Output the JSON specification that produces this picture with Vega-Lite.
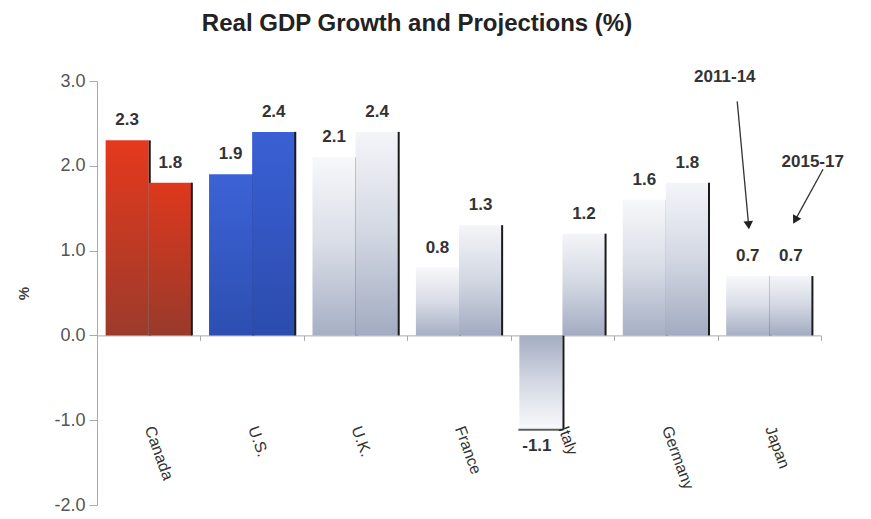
{
  "$schema": "https://vega.github.io/schema/vega-lite/v6.json",
  "width": 724,
  "height": 424,
  "autosize": {"type": "none"},
  "padding": {"left": 97, "top": 81, "right": 50, "bottom": 14},
  "background": "white",
  "title": {
    "text": "Real GDP Growth and Projections (%)",
    "font": "Liberation Sans Narrow, Liberation Sans",
    "fontSize": 24,
    "fontWeight": "bold",
    "color": "#222222",
    "anchor": "middle",
    "dx": -42,
    "offset": 32
  },
  "config": {
    "view": {"stroke": null},
    "locale": {"number": {"decimal": ".", "thousands": ",", "grouping": [3], "currency": ["$", ""], "minus": "-"}}
  },
  "datasets": {
    "gdp": [
      {"country": "Canada", "period": "2011-14", "value": 2.3},
      {"country": "Canada", "period": "2015-17", "value": 1.8},
      {"country": "U.S.", "period": "2011-14", "value": 1.9},
      {"country": "U.S.", "period": "2015-17", "value": 2.4},
      {"country": "U.K.", "period": "2011-14", "value": 2.1},
      {"country": "U.K.", "period": "2015-17", "value": 2.4},
      {"country": "France", "period": "2011-14", "value": 0.8},
      {"country": "France", "period": "2015-17", "value": 1.3},
      {"country": "Italy", "period": "2011-14", "value": -1.1},
      {"country": "Italy", "period": "2015-17", "value": 1.2},
      {"country": "Germany", "period": "2011-14", "value": 1.6},
      {"country": "Germany", "period": "2015-17", "value": 1.8},
      {"country": "Japan", "period": "2011-14", "value": 0.7},
      {"country": "Japan", "period": "2015-17", "value": 0.7}
    ],
    "arrows": [
      {"label": "2011-14", "part": "tail", "x": 6.19, "y": 2.76},
      {"label": "2011-14", "part": "tip", "x": 6.30, "y": 1.30},
      {"label": "2015-17", "part": "tail", "x": 7.02, "y": 1.96},
      {"label": "2015-17", "part": "tip", "x": 6.75, "y": 1.36}
    ],
    "notes": [
      {"label": "2011-14", "x": 6.07, "y": 3.05},
      {"label": "2015-17", "x": 6.92, "y": 2.05}
    ]
  },
  "resolve": {"scale": {"x": "independent"}},
  "layer": [
    {
      "data": {"name": "gdp"},
      "encoding": {
        "x": {
          "field": "country",
          "type": "nominal",
          "sort": ["Canada", "U.S.", "U.K.", "France", "Italy", "Germany", "Japan"],
          "scale": {"paddingInner": 0, "paddingOuter": 0},
          "axis": {
            "title": null,
            "offset": -169.6,
            "labelAngle": 70,
            "labelAlign": "left",
            "labelBaseline": "middle",
            "labelPadding": 86,
            "labelFont": "Liberation Sans",
            "labelFontSize": 16,
            "labelColor": "#333333",
            "tickBand": "extent",
            "tickSize": 5,
            "tickColor": "#aaaaaa",
            "domainColor": "#aaaaaa",
            "labelOverlap": false
          }
        },
        "y": {
          "field": "value",
          "type": "quantitative",
          "scale": {"domain": [-2, 3], "nice": false, "zero": false},
          "axis": {
            "title": "%",
            "titleFont": "Liberation Sans",
            "titleFontSize": 15,
            "titleFontWeight": "bold",
            "titleColor": "#444444",
            "titlePadding": 22,
            "values": [-2, -1, 0, 1, 2, 3],
            "format": ".1f",
            "labelFont": "Liberation Sans",
            "labelFontSize": 18,
            "labelColor": "#555555",
            "labelPadding": 4,
            "tickSize": 8,
            "tickColor": "#aaaaaa",
            "domainColor": "#aaaaaa",
            "grid": false
          }
        }
      },
      "layer": [
        {
          "transform": [{"filter": "datum.period === '2011-14'"}],
          "mark": {"type": "bar"},
          "encoding": {
            "xOffset": {"field": "period", "type": "nominal", "sort": ["2011-14", "2015-17"], "scale": {"domain": ["2011-14", "2015-17"], "paddingInner": 0, "paddingOuter": 0.2}},
            "y2": {"datum": 0},
            "fill": {
              "condition": [
                {"test": "datum.country === 'Canada'", "value": {"gradient": "linear", "x1": 0, "y1": 0, "x2": 0, "y2": 1, "stops": [{"offset": 0, "color": "#e5391d"}, {"offset": 1, "color": "#9c3b2b"}]}},
                {"test": "datum.country === 'U.S.'", "value": {"gradient": "linear", "x1": 0, "y1": 0, "x2": 0, "y2": 1, "stops": [{"offset": 0, "color": "#3c62d6"}, {"offset": 1, "color": "#2d4fb2"}]}},
                {"test": "datum.value < 0", "value": {"gradient": "linear", "x1": 0, "y1": 0, "x2": 0, "y2": 1, "stops": [{"offset": 0, "color": "#a4adc2"}, {"offset": 0.5, "color": "#d3d8e3"}, {"offset": 1, "color": "#f8f9fb"}]}}
              ],
              "value": {"gradient": "linear", "x1": 0, "y1": 0, "x2": 0, "y2": 1, "stops": [{"offset": 0, "color": "#f7f8fb"}, {"offset": 0.5, "color": "#d8dce6"}, {"offset": 1, "color": "#a6afc4"}]}
            }
          }
        },
        {
          "transform": [{"filter": "datum.period === '2011-14'"}],
          "mark": {"type": "rule", "color": "#1a1a1a", "strokeWidth": 2},
          "encoding": {
            "x": {"field": "country", "type": "nominal", "sort": ["Canada", "U.S.", "U.K.", "France", "Italy", "Germany", "Japan"], "bandPosition": 0.51},
            "y2": {"datum": 0}
          }
        },
        {
          "transform": [{"filter": "datum.value < 0"}],
          "mark": {"type": "tick", "orient": "horizontal", "color": "#1a1a1a", "thickness": 2, "size": 45, "yOffset": 1},
          "encoding": {
            "xOffset": {"field": "period", "type": "nominal", "sort": ["2011-14", "2015-17"], "scale": {"domain": ["2011-14", "2015-17"], "paddingInner": 0, "paddingOuter": 0.2}}
          }
        },
        {
          "transform": [{"filter": "datum.period === '2015-17'"}],
          "mark": {"type": "bar"},
          "encoding": {
            "xOffset": {"field": "period", "type": "nominal", "sort": ["2011-14", "2015-17"], "scale": {"domain": ["2011-14", "2015-17"], "paddingInner": 0, "paddingOuter": 0.2}},
            "y2": {"datum": 0},
            "fill": {
              "condition": [
                {"test": "datum.country === 'Canada'", "value": {"gradient": "linear", "x1": 0, "y1": 0, "x2": 0, "y2": 1, "stops": [{"offset": 0, "color": "#de381d"}, {"offset": 1, "color": "#983a2b"}]}},
                {"test": "datum.country === 'U.S.'", "value": {"gradient": "linear", "x1": 0, "y1": 0, "x2": 0, "y2": 1, "stops": [{"offset": 0, "color": "#3a60d4"}, {"offset": 1, "color": "#2b4cae"}]}}
              ],
              "value": {"gradient": "linear", "x1": 0, "y1": 0, "x2": 0, "y2": 1, "stops": [{"offset": 0, "color": "#f4f5f9"}, {"offset": 0.5, "color": "#d2d7e2"}, {"offset": 1, "color": "#a2abc1"}]}
            }
          }
        },
        {
          "transform": [{"filter": "datum.period === '2015-17'"}],
          "mark": {"type": "rule", "color": "#1a1a1a", "strokeWidth": 2},
          "encoding": {
            "x": {"field": "country", "type": "nominal", "sort": ["Canada", "U.S.", "U.K.", "France", "Italy", "Germany", "Japan"], "bandPosition": 0.917},
            "y2": {"datum": 0}
          }
        },
        {
          "transform": [{"filter": "datum.value >= 0"}],
          "mark": {"type": "text", "font": "Liberation Sans Narrow, Liberation Sans", "fontSize": 17, "fontWeight": "bold", "color": "#333333", "baseline": "bottom", "dy": -11},
          "encoding": {
            "xOffset": {"field": "period", "type": "nominal", "sort": ["2011-14", "2015-17"], "scale": {"domain": ["2011-14", "2015-17"], "paddingInner": 0, "paddingOuter": 0.2}},
            "text": {"field": "value", "type": "quantitative", "format": ".1f"}
          }
        },
        {
          "transform": [{"filter": "datum.value < 0"}],
          "mark": {"type": "text", "font": "Liberation Sans Narrow, Liberation Sans", "fontSize": 17, "fontWeight": "bold", "color": "#333333", "baseline": "top", "dy": 9, "dx": -4},
          "encoding": {
            "xOffset": {"field": "period", "type": "nominal", "sort": ["2011-14", "2015-17"], "scale": {"domain": ["2011-14", "2015-17"], "paddingInner": 0, "paddingOuter": 0.2}},
            "text": {"field": "value", "type": "quantitative", "format": ".1f"}
          }
        }
      ]
    },
    {
      "encoding": {
        "x": {"field": "x", "type": "quantitative", "scale": {"domain": [0, 7], "nice": false, "zero": false}, "axis": null},
        "y": {"field": "y", "type": "quantitative"}
      },
      "layer": [
        {
          "data": {"name": "arrows"},
          "mark": {"type": "line", "color": "#333333", "strokeWidth": 1.3},
          "encoding": {"detail": {"field": "label"}}
        },
        {
          "data": {"name": "arrows"},
          "transform": [{"filter": "datum.part === 'tip' && datum.label === '2011-14'"}],
          "mark": {"type": "point", "shape": "triangle-down", "filled": true, "color": "#222222", "size": 90, "opacity": 1, "angle": -5},
          "encoding": {}
        },
        {
          "data": {"name": "arrows"},
          "transform": [{"filter": "datum.part === 'tip' && datum.label === '2015-17'"}],
          "mark": {"type": "point", "shape": "triangle-down", "filled": true, "color": "#222222", "size": 90, "opacity": 1, "angle": 29},
          "encoding": {}
        },
        {
          "data": {"name": "notes"},
          "mark": {"type": "text", "font": "Liberation Sans Narrow, Liberation Sans", "fontSize": 17, "fontWeight": "bold", "color": "#333333", "baseline": "middle"},
          "encoding": {"text": {"field": "label"}}
        }
      ]
    }
  ]
}
